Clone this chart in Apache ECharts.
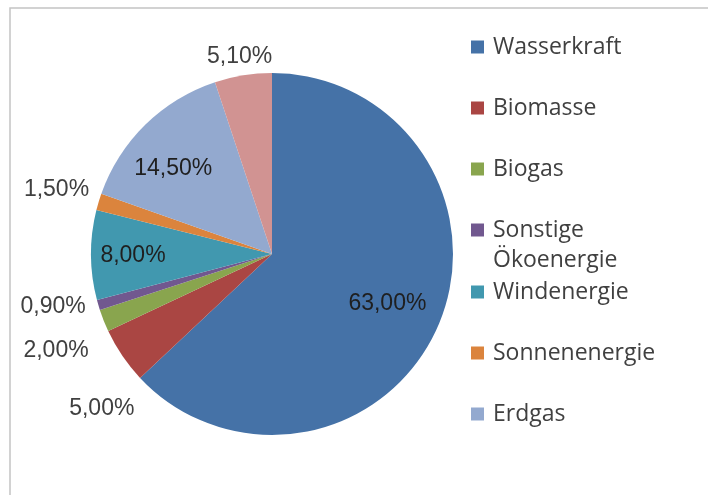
<!DOCTYPE html>
<html lang="de">
<head>
    <meta charset="UTF-8">
    <title>Strommix</title>
    <style>
        html, body { margin: 0; padding: 0; background: #fff; }
    </style>
</head>
<body>
<div id="main" style="width: 708px;height:495px;"></div>
<script src="https://cdn.jsdelivr.net/npm/echarts@6/dist/echarts.min.js"></script>
<script type="text/javascript">
    // Daten
    var names = ["Wasserkraft", "Biomasse", "Biogas", "Sonstige Ökoenergie",
        "Windenergie", "Sonnenenergie", "Erdgas", "Andere"];
    var values = [63.0, 5.0, 2.0, 0.9, 8.0, 1.5, 14.5, 5.1];
    var legendA = ["Wasserkraft", "Biomasse", "Biogas"];
    var legendB = ["Sonstige Ökoenergie"];
    var legendC = ["Windenergie", "Sonnenenergie", "Erdgas"];
    // Beschriftung innen
    var innerNames = ["Wasserkraft", "Windenergie", "Erdgas"];

    var colors = ['#4572A7', '#AA4643', '#89A54E', '#71588F',
        '#4198AF', '#DB843D', '#93A9CF', '#D19392'];

    // kleine Verschiebungen der Beschriftungen (wie in Excel "optimale Position")
    var outerShift = {
        "Andere": [36, -7],
        "Sonnenenergie": [2, -9],
        "Sonstige Ökoenergie": [0, -2],
        "Biogas": [-5, 17],
        "Biomasse": [27, 46]
    };
    var innerShift = {
        "Wasserkraft": [-14, -6],
        "Erdgas": [0, 15],
        "Windenergie": [2, 1]
    };

    function pct(v) {
        return v.toFixed(2).replace(".", ",") + "%";
    }

    var myChart = echarts.init(document.getElementById("main"));

    var pieData = names.map(function (n, i) {
        return {name: n, value: values[i]};
    });

    function legend(top, data, fmt) {
        return {
            orient: "vertical",
            left: 471,
            top: top,
            padding: 0,
            itemWidth: 13,
            itemHeight: 13,
            itemGap: 31,
            icon: "rect",
            textStyle: {
                fontFamily: "Open Sans",
                fontSize: 23,
                lineHeight: 30,
                color: "#404040",
                padding: [0, 0, 0, 4]
            },
            formatter: fmt,
            data: data
        };
    }

    function shifter(map) {
        return function (p) {
            var s = map[names[p.dataIndex]];
            return s ? {dx: s[0], dy: s[1]} : {};
        };
    }

    var option = {
        color: colors,
        animation: false,
        graphic: [{
            type: "rect",
            shape: {x: 10, y: 8, width: 760, height: 560},
            style: {fill: "none", stroke: "#c4c4c4", lineWidth: 1.5},
            silent: true
        }],
        legend: [
            legend(32, legendA, "{name}"),
            // zweizeilig, Symbol auf Höhe der ersten Zeile
            legend(185, legendB, function (n) {
                return "\n" + n.replace(" ", "\n");
            }),
            legend(277, legendC, "{name}")
        ],
        series: [
            {
                name: "Strommix",
                type: "pie",
                radius: 181,
                center: [272, 254],
                startAngle: 90,
                clockwise: true,
                data: pieData,
                label: {
                    position: "outside",
                    fontFamily: "Liberation Sans",
                    fontSize: 23,
                    color: "#404040",
                    formatter: function (p) {
                        return innerNames.indexOf(p.name) >= 0 ? "" : pct(p.value);
                    }
                },
                labelLine: {show: false, length: 12, length2: 0},
                labelLayout: shifter(outerShift)
            },
            {
                name: "Strommix innen",
                type: "pie",
                radius: [95, 181],
                center: [272, 254],
                startAngle: 90,
                clockwise: true,
                silent: true,
                itemStyle: {color: "transparent"},
                data: pieData,
                label: {
                    position: "inside",
                    fontFamily: "Liberation Sans",
                    fontSize: 23,
                    color: "#1f1f1f",
                    formatter: function (p) {
                        return innerNames.indexOf(p.name) >= 0 ? pct(p.value) : "";
                    }
                },
                labelLine: {show: false},
                labelLayout: shifter(innerShift)
            }
        ]
    };

    myChart.setOption(option);
</script>
</body>
</html>
